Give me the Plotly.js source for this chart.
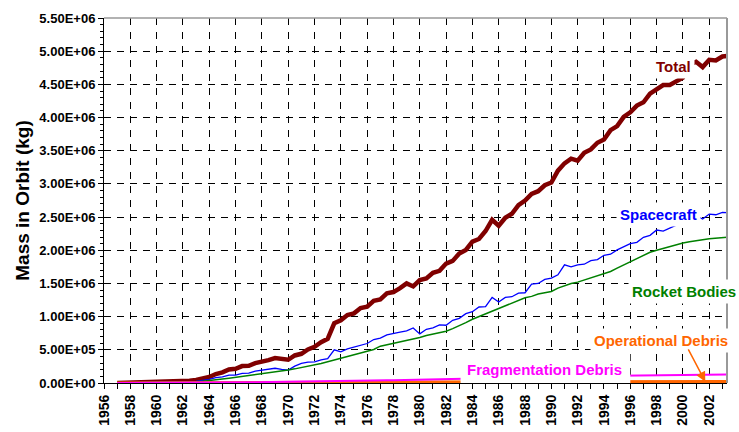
<!DOCTYPE html>
<html>
<head>
<meta charset="utf-8">
<script src="https://cdn.plot.ly/plotly-3.0.1.min.js"></script>
<style>html,body{margin:0;padding:0;background:#fff;}#chart{width:739px;height:432px;}</style>
</head>
<body>
<div id="chart"></div>
<script>
// Years (half-year steps)
var years = [1957,1957.5,1958,1958.5,1959,1959.5,1960,1960.5,1961,1961.5,1962,1962.5,1963,1963.5,1964,1964.5,1965,1965.5,1966,1966.5,1967,1967.5,1968,1968.5,1969,1969.5,1970,1970.5,1971,1971.5,1972,1972.5,1973,1973.5,1974,1974.5,1975,1975.5,1976,1976.5,1977,1977.5,1978,1978.5,1979,1979.5,1980,1980.5,1981,1981.5,1982,1982.5,1983,1983.5,1984,1984.5,1985,1985.5,1986,1986.5,1987,1987.5,1988,1988.5,1989,1989.5,1990,1990.5,1991,1991.5,1992,1992.5,1993,1993.5,1994,1994.5,1995,1995.5,1996,1996.5,1997,1997.5,1998,1998.5,1999,1999.5,2000,2000.5,2001,2001.5,2002,2002.5,2003,2003.5];

var total = [1000,3000,5000,7000,9000,11000,13000,15000,18000,21000,25000,33000,45000,62000,90000,135000,160000,205000,215000,255000,260000,300000,315000,345000,375000,355000,350000,415000,440000,505000,545000,615000,665000,900000,945000,1025000,1050000,1130000,1150000,1240000,1260000,1350000,1370000,1430000,1500000,1455000,1550000,1575000,1660000,1690000,1800000,1840000,1950000,2005000,2130000,2170000,2290000,2460000,2370000,2490000,2550000,2680000,2750000,2850000,2890000,2980000,3020000,3200000,3310000,3380000,3350000,3470000,3520000,3620000,3670000,3810000,3870000,4010000,4080000,4180000,4230000,4360000,4420000,4490000,4490000,4550000,4600000,4800000,4840000,4760000,4870000,4860000,4920000,4930000];

var spacecraft = [0,1000,2000,3000,4000,5000,6000,8000,10000,12000,15000,19000,25000,38000,55000,80000,92000,118000,120000,145000,148000,180000,192000,210000,222000,205000,195000,255000,295000,315000,318000,350000,368000,500000,470000,515000,540000,575000,595000,655000,675000,725000,740000,765000,785000,830000,740000,810000,830000,875000,870000,945000,975000,1045000,1075000,1145000,1150000,1290000,1220000,1290000,1300000,1355000,1360000,1490000,1500000,1560000,1580000,1630000,1780000,1750000,1780000,1790000,1845000,1860000,1925000,1940000,2005000,2050000,2100000,2120000,2195000,2225000,2305000,2290000,2330000,2380000,2430000,2480000,2520000,2470000,2545000,2535000,2570000,2565000];

var rocketBodies = [0,1000,2000,3000,4000,5000,6000,7000,8000,10000,12000,15000,20000,27000,35000,48000,60000,72000,85000,100000,115000,130000,145000,158000,170000,182000,195000,213000,232000,250000,270000,295000,320000,345000,370000,395000,420000,445000,470000,505000,555000,575000,600000,620000,640000,660000,685000,715000,740000,760000,780000,820000,860000,910000,960000,1000000,1045000,1085000,1130000,1165000,1200000,1240000,1285000,1305000,1340000,1360000,1380000,1430000,1470000,1500000,1520000,1550000,1580000,1610000,1640000,1680000,1730000,1780000,1830000,1880000,1930000,1970000,2000000,2030000,2060000,2090000,2110000,2130000,2150000,2160000,2175000,2185000,2190000,2200000];

var fragmentation = [0,0,0,0,0,0,500,500,1000,1500,2000,2500,3000,4000,5000,6000,7000,8000,9000,10000,11000,12000,13000,14000,15000,16000,17000,18000,19000,20000,21000,22000,23000,25000,27000,29000,31000,33000,35000,37000,39000,41000,43000,45000,47000,49000,51000,54000,57000,60000,63000,67000,70000,72000,74000,76000,78000,80000,82000,84000,86000,88000,90000,92000,94000,96000,98000,100000,101000,102000,103000,104000,105000,106000,107000,108000,109000,110000,112000,113000,114000,116000,117000,118000,119000,120000,121000,123000,124000,125000,126000,127000,128000,129000];

var operational = [0,500,1000,1500,2000,2500,3000,3500,4000,4500,5000,5500,6000,6500,7000,7500,8000,8500,9000,9300,9600,9900,10200,10500,10800,11100,11400,11700,12000,12300,12600,12900,13200,13500,13800,14100,14400,14700,15000,15200,15400,15600,15800,16000,16200,16400,16600,16800,17000,17200,17400,17600,17800,18000,18100,18200,18300,18400,18500,18600,18700,18800,18900,19000,19100,19200,19300,19400,19500,19600,19700,19800,19900,20000,20100,20200,20300,20400,20500,20600,20700,20800,20900,21000,21100,21200,21300,21400,21500,21600,21700,21800,21900,22000];

var yTickVals = [0,500000,1000000,1500000,2000000,2500000,3000000,3500000,4000000,4500000,5000000,5500000];
var yTickText = ["0.00E+00","5.00E+05","1.00E+06","1.50E+06","2.00E+06","2.50E+06","3.00E+06","3.50E+06","4.00E+06","4.50E+06","5.00E+06","5.50E+06"];
var xTickVals = [1956,1958,1960,1962,1964,1966,1968,1970,1972,1974,1976,1978,1980,1982,1984,1986,1988,1990,1992,1994,1996,1998,2000,2002];
var xTickText = ["1956","1958","1960","1962","1964","1966","1968","1970","1972","1974","1976","1978","1980","1982","1984","1986","1988","1990","1992","1994","1996","1998","2000","2002"];

var FONT = "Liberation Sans, Arial, Helvetica, sans-serif";

var traces = [
  {x: years, y: total, type: "scatter", mode: "lines", name: "Total", line: {color: "#800000", width: 4.5}},
  {x: years, y: spacecraft, type: "scatter", mode: "lines", name: "Spacecraft", line: {color: "#0000FF", width: 1.3}},
  {x: years, y: rocketBodies, type: "scatter", mode: "lines", name: "Rocket Bodies", line: {color: "#008000", width: 1.5}},
  {x: years, y: operational, type: "scatter", mode: "lines", name: "Operational Debris", line: {color: "#FF6600", width: 3}},
  {x: years, y: fragmentation, type: "scatter", mode: "lines", name: "Fragmentation Debris", line: {color: "#FF00FF", width: 2}}
];

function lab(text, x, y, color) {
  return {text: text, x: x, y: y, xref: "x", yref: "y", showarrow: false,
    font: {family: FONT, size: 15, color: color, weight: "bold"},
    bgcolor: "#FFFFFF", borderpad: 3, xanchor: "center", yanchor: "middle"};
}

var layout = {
  width: 739, height: 432,
  margin: {l: 104, r: 12, t: 18, b: 49},
  paper_bgcolor: "#FFFFFF", plot_bgcolor: "#FFFFFF",
  showlegend: false,
  font: {family: FONT, color: "#000"},
  xaxis: {
    range: [1956, 2003.35], tickmode: "array", tickvals: xTickVals, ticktext: xTickText,
    tickangle: -90, tickfont: {family: FONT, size: 14, color: "#000", weight: "bold"},
    ticks: "outside", ticklen: 5, tickcolor: "#000",
    showgrid: true, gridcolor: "#000", griddash: "7px,7px", gridwidth: 1,
    showline: true, linecolor: "#000", linewidth: 1, zeroline: false,
    minor: {tickmode: "linear", tick0: 1956, dtick: 1, ticks: "outside", ticklen: 5, tickcolor: "#000", showgrid: false}
  },
  yaxis: {
    range: [0, 5500000], tickmode: "array", tickvals: yTickVals, ticktext: yTickText,
    tickfont: {family: FONT, size: 13, color: "#000", weight: "bold"},
    ticks: "outside", ticklen: 5, tickcolor: "#000",
    showgrid: true, gridcolor: "#000", griddash: "7px,6px", gridwidth: 1,
    showline: true, linecolor: "#000", linewidth: 1, zeroline: false,
    minor: {tickmode: "linear", tick0: 0, dtick: 100000, ticks: "outside", ticklen: 3, tickcolor: "#000", showgrid: false},
    title: {text: "Mass in Orbit (kg)", font: {family: FONT, size: 19, color: "#000", weight: "bold"}, standoff: 4}
  },
  shapes: [
    {type: "line", xref: "paper", yref: "paper", x0: 0, x1: 1, y0: 1, y1: 1, line: {color: "#999999", width: 1.5}, layer: "above"},
    {type: "line", xref: "paper", yref: "paper", x0: 1, x1: 1, y0: 0, y1: 1, line: {color: "#999999", width: 2}, layer: "above"},
    {type: "rect", xref: "x", yref: "y", x0: 1983.1, x1: 1996.0, y0: -9000, y1: 440000, fillcolor: "#FFFFFF", line: {width: 0}, layer: "above"}
  ],
  annotations: [
    lab("Total", 1999.3, 4770000, "#800000"),
    lab("Spacecraft", 1998.13, 2545000, "#0000FF"),
    lab("Rocket Bodies", 2000.1, 1386000, "#008000"),
    lab("Fragmentation Debris", 1989.5, 211000, "#FF00FF"),
    lab("Operational Debris", 1998.3, 648000, "#FF6600"),
    {text: " ", x: 2001.7, y: 20000, xref: "x", yref: "y", ax: -19, ay: -36, axref: "pixel", ayref: "pixel",
     showarrow: true, arrowhead: 2, arrowsize: 1.3, arrowwidth: 1.5, arrowcolor: "#FF6600", font: {size: 4}}
  ]
};

Plotly.newPlot("chart", traces, layout, {staticPlot: true, displayModeBar: false});
</script>
</body>
</html>
